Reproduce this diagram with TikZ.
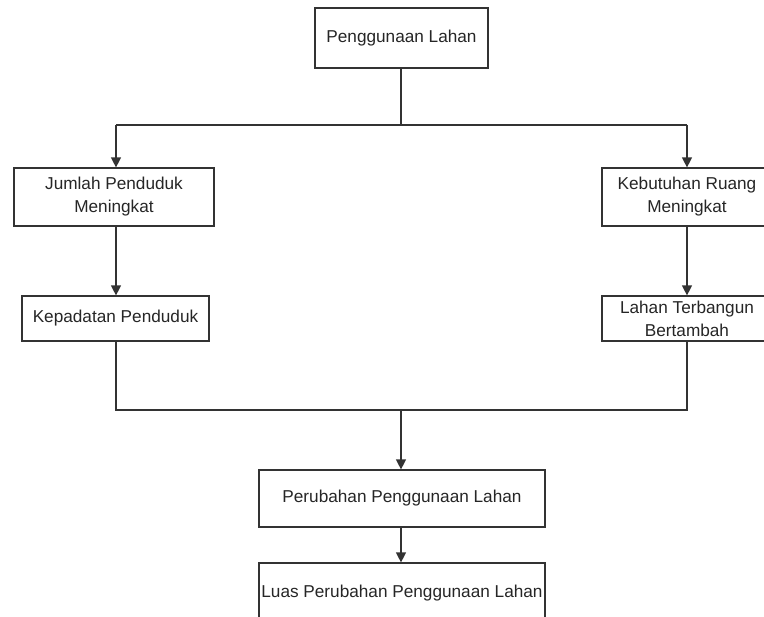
\documentclass[tikz,border=0pt]{standalone}
\usepackage{fontspec}
\setmainfont{Liberation Sans}
\usetikzlibrary{arrows.meta}
\begin{document}
\begin{tikzpicture}[x=1pt,y=-1pt,
  box/.style={draw=black!80, line width=1.2pt, fill=white, inner sep=0pt, align=center,
    font=\fontsize{17.2}{23}\selectfont, text=black!85},
  link/.style={draw=black!80, line width=1.3pt},
  arr/.style={link, -{Triangle[width=10pt,length=10pt]}}]
\clip (0,0) rectangle (764,617);
\fill[white] (0,0) rectangle (764,617);
\node[box, minimum width=173pt, minimum height=60pt] (top) at (401.5,38) {Penggunaan Lahan};
\node[box, minimum width=200pt, minimum height=58pt] (jp) at (114,197) {Jumlah Penduduk\\Meningkat};
\node[box, minimum width=187pt, minimum height=45pt] (kp) at (115.5,318.5) {Kepadatan Penduduk};
\node[box, minimum width=170pt, minimum height=58pt] (kr) at (687,197) {Kebutuhan Ruang\\Meningkat};
\node[box, minimum width=170pt, minimum height=45pt] (lt) at (687,318.5) {Lahan Terbangun\\Bertambah};
\node[box, minimum width=286pt, minimum height=57pt] (pp) at (402,498.5) {Perubahan Penggunaan Lahan};
\node[box, minimum width=286pt, minimum height=60pt, inner sep=0pt] (lp) at (402,593) {Luas Perubahan Penggunaan Lahan};
\coordinate (j1) at (401,125);
\coordinate (jL) at (116,125);
\coordinate (jR) at (687,125);
\coordinate (j2) at (401,410);
\coordinate (kL) at (116,410);
\coordinate (kR) at (687,410);
\draw[link] (top.south -| j1) -- (j1);
\draw[link] (jL) -- (jR);
\draw[arr] (jL) -- (jL |- jp.north);
\draw[arr] (jR) -- (kr.north);
\draw[arr] (jL |- jp.south) -- (jL |- kp.north);
\draw[arr] (kr.south) -- (lt.north);
\draw[link] (kL |- kp.south) -- (kL) -- (kR) -- (lt.south);
\draw[arr] (j2) -- (j2 |- pp.north);
\draw[arr] (j2 |- pp.south) -- (j2 |- lp.north);
\end{tikzpicture}
\end{document}
